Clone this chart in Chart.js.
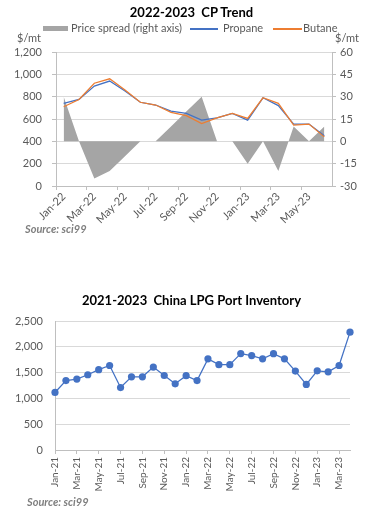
<!DOCTYPE html>
<html>
<head>
<meta charset="utf-8">
<script src="https://cdn.jsdelivr.net/npm/chart.js@4.4.0/dist/chart.umd.min.js"></script>
<style>
  html, body { margin:0; padding:0; background:#fff; }
  body { width:383px; height:517px; overflow:hidden; position:relative; font-family: Lato, "Open Sans", sans-serif; color:#595959; }
  canvas { position:absolute; left:0; }
  .t { position:absolute; white-space:nowrap; line-height:14px; }
  .title { left:0; width:383px; text-align:center; font-weight:bold; font-size:13px; color:#000; line-height:16px; }
  .lg { font-size:11px; color:#595959; }
  .unit { font-size:11px; color:#595959; }
  .src { font-size:11px; font-weight:bold; font-style:italic; color:#7f7f7f; }
  .box { position:absolute; }
</style>
</head>
<body>
<canvas id="c1" width="383" height="240" style="top:0;width:383px;height:240px"></canvas>
<canvas id="c2" width="383" height="200" style="top:300px;width:383px;height:200px"></canvas>

<div class="t title" style="top:4px">2022-2023&nbsp;&nbsp;CP Trend</div>
<div class="box" style="left:43px;top:26px;width:25px;height:5px;background:#A5A5A5"></div>
<div class="t lg" style="left:71px;top:21px">Price spread (right axis)</div>
<div class="box" style="left:190px;top:28px;width:28px;height:1.5px;background:#4472C4"></div>
<div class="t lg" style="left:223px;top:21px">Propane</div>
<div class="box" style="left:273px;top:28px;width:29px;height:1.5px;background:#ED7D31"></div>
<div class="t lg" style="left:303px;top:21px">Butane</div>
<div class="t unit" style="left:17px;top:31px">$/mt</div>
<div class="t unit" style="left:335px;top:31px">$/mt</div>
<div class="t src" style="left:25px;top:222px">Source: sci99</div>

<div class="t title" style="top:292px">2021-2023&nbsp;&nbsp;China LPG Port Inventory</div>
<div class="t src" style="left:27px;top:495px">Source: sci99</div>

<script>
// ---------- Data: CP trend ----------
const cpMonths = ['Jan-22','Feb-22','Mar-22','Apr-22','May-22','Jun-22','Jul-22','Aug-22','Sep-22','Oct-22','Nov-22','Dec-22','Jan-23','Feb-23','Mar-23','Apr-23','May-23','Jun-23'];
const propane = [740, 775, 895, 940, 850, 750, 725, 670, 650, 590, 610, 650, 590, 790, 720, 555, 555, 450];
const butane  = [710, 775, 920, 960, 860, 750, 725, 660, 630, 560, 610, 650, 605, 790, 740, 545, 555, 440];
const spread  = [30, 0, -25, -20, -10, 0, 0, 10, 20, 30, 0, 0, -15, 0, -20, 10, 0, 10];
const cpLeftTicks = [0, 1200, 200];   // min, max, step
const cpRightTicks = [-30, 60, 15];   // min, max, step

// ---------- Data: LPG port inventory ----------
const invMonths = ['Jan-21','Feb-21','Mar-21','Apr-21','May-21','Jun-21','Jul-21','Aug-21','Sep-21','Oct-21','Nov-21','Dec-21',
                   'Jan-22','Feb-22','Mar-22','Apr-22','May-22','Jun-22','Jul-22','Aug-22','Sep-22','Oct-22','Nov-22','Dec-22',
                   'Jan-23','Feb-23','Mar-23','Apr-23'];
const inventory = [1115, 1345, 1375, 1458, 1557, 1638, 1210, 1418, 1418, 1608, 1444, 1283,
                   1440, 1345, 1766, 1654, 1654, 1868, 1830, 1766, 1866, 1766, 1530, 1270,
                   1535, 1515, 1638, 2284];
const invTicks = [0, 2500, 500];

Chart.defaults.font.family = 'Lato, "Open Sans", sans-serif';
Chart.defaults.color = '#595959';

const AX = '#BFBFBF', GRID = '#D9D9D9';

new Chart(document.getElementById('c1'), {
  type: 'line',
  data: {
    labels: cpMonths,
    datasets: [
      { label: 'Butane', data: butane, borderColor: '#ED7D31', borderWidth: 1.25, pointRadius: 0, yAxisID: 'y', fill: false, tension: 0 },
      { label: 'Propane', data: propane, borderColor: '#4472C4', borderWidth: 1.25, pointRadius: 0, yAxisID: 'y', fill: false, tension: 0 },
      { label: 'Price spread (right axis)', data: spread, yAxisID: 'y1', borderWidth: 0, borderColor: 'rgba(0,0,0,0)',
        backgroundColor: '#A5A5A5', pointRadius: 0, fill: 'origin', tension: 0 }
    ]
  },
  options: {
    responsive: false, animation: false, locale: 'en-US',
    layout: { padding: { top: 52, left: 0, right: 0, bottom: 0 } },
    plugins: { legend: { display: false }, tooltip: { enabled: false } },
    scales: {
      x: {
        offset: true,
        grid: { offset: true, drawOnChartArea: false, tickLength: 4,
                color: c => (c.index !== undefined && c.index % 2 === 0) ? AX : 'rgba(0,0,0,0)' },
        border: { color: AX },
        ticks: { autoSkip: false, minRotation: 45, maxRotation: 45, padding: 0, font: { size: 11 },
                 callback: (v, i) => i % 2 === 0 ? cpMonths[i] : '' },
        afterFit: s => { s.height = 54; }
      },
      y: {
        position: 'left', min: cpLeftTicks[0], max: cpLeftTicks[1],
        ticks: { stepSize: cpLeftTicks[2], padding: 10, font: { size: 11 } },
        grid: { color: GRID, tickColor: AX, tickLength: 4 },
        border: { color: AX },
        afterFit: s => { s.width = 56; }
      },
      y1: {
        position: 'right', min: cpRightTicks[0], max: cpRightTicks[1],
        ticks: { stepSize: cpRightTicks[2], padding: 4, font: { size: 11 } },
        grid: { drawOnChartArea: false, color: AX, tickLength: 4 },
        border: { color: AX },
        afterFit: s => { s.width = 51; }
      }
    }
  }
});

new Chart(document.getElementById('c2'), {
  type: 'line',
  data: {
    labels: invMonths,
    datasets: [
      { label: 'Inventory', data: inventory, borderColor: '#4472C4', backgroundColor: '#4472C4',
        borderWidth: 1.25, pointRadius: 3.6, pointBorderWidth: 0, pointBackgroundColor: '#4472C4', tension: 0, fill: false }
    ]
  },
  options: {
    responsive: false, animation: false, locale: 'en-US',
    layout: { padding: { top: 21, left: 0, right: 33, bottom: 0 } },
    plugins: { legend: { display: false }, tooltip: { enabled: false } },
    scales: {
      x: {
        offset: false,
        grid: { drawOnChartArea: false, tickLength: 4,
                color: c => (c.index !== undefined && c.index % 2 === 0) ? AX : 'rgba(0,0,0,0)' },
        border: { color: AX },
        ticks: { autoSkip: false, minRotation: 90, maxRotation: 90, padding: 3, font: { size: 10 },
                 callback: (v, i) => i % 2 === 0 ? invMonths[i] : '' },
        afterFit: s => { s.height = 50; }
      },
      y: {
        min: invTicks[0], max: invTicks[1],
        ticks: { stepSize: invTicks[2], padding: 12, font: { size: 11 } },
        grid: { color: GRID, drawTicks: false },
        border: { color: AX },
        afterFit: s => { s.width = 55; }
      }
    }
  }
});
</script>
</body>
</html>
